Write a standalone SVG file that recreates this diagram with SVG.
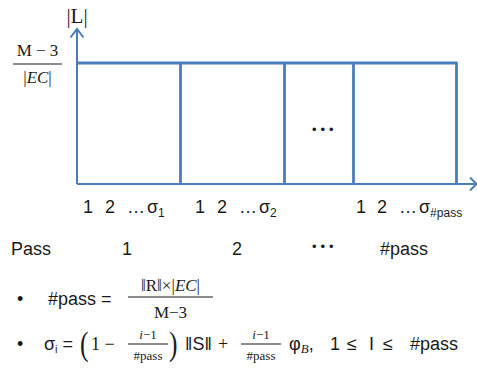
<svg xmlns="http://www.w3.org/2000/svg" width="477" height="374" viewBox="0 0 477 374">
<style>
.ax{stroke:#4a7ebb;stroke-width:2;fill:none}
.bx{stroke:#4a7ebb;stroke-width:2.8;fill:none}
.s{font-family:"Liberation Sans",Arial,sans-serif;font-size:18px;fill:#1a1a1a}
.m{font-family:"Liberation Serif","Times New Roman",serif;font-size:17px;fill:#1a1a1a}
.sm{font-family:"Liberation Serif","Times New Roman",serif;font-size:13px;fill:#1a1a1a}
.dots{font-family:"Liberation Sans",Arial,sans-serif;font-size:13px;letter-spacing:4px;fill:#1a1a1a}
.par{font-family:"Liberation Serif","Times New Roman",serif;font-size:34px;fill:#1a1a1a}
.fl{stroke:#1a1a1a;stroke-width:1.2}
</style>
<rect width="477" height="374" fill="#ffffff"/>
<g id="connectors">
<path class="ax" d="M77,184 V29"/>
<path class="ax" d="M70.5,37.5 L77,29 L83.5,37.5"/>
<path class="ax" d="M77,184 H476"/>
<path class="ax" d="M470,177.5 L476.5,184 L470,190.5"/>
</g>
<g id="box">
<path class="bx" d="M77,63 H457.5"/>
<path class="bx" d="M180.5,63 V184"/>
<path class="bx" d="M284.5,63 V184"/>
<path class="bx" d="M353.5,63 V184"/>
<path class="bx" d="M456.5,63 V184"/>
<text class="dots" x="312" y="134">•••</text>
</g>
<g id="ylabel">
<text class="m" x="77" y="23" style="font-size:21px" text-anchor="middle">|L|</text>
<text class="m" x="37.5" y="56" text-anchor="middle">M − 3</text>
<line class="fl" x1="13" y1="64" x2="62" y2="64"/>
<text class="m" x="37.5" y="83" text-anchor="middle">|<tspan font-style="italic">EC</tspan>|</text>
</g>
<g id="xlabels" class="s">
<text x="83" y="213">1</text><text x="105" y="213">2</text><text x="127" y="213">…</text><text x="147" y="213">σ<tspan font-size="12" dy="4">1</tspan></text>
<text x="195" y="213">1</text><text x="217" y="213">2</text><text x="239" y="213">…</text><text x="259" y="213">σ<tspan font-size="12" dy="4">2</tspan></text>
<text x="356" y="213">1</text><text x="377" y="213">2</text><text x="399" y="213">…</text><text x="419" y="213">σ<tspan font-size="12" dy="4">#pass</tspan></text>
</g>
<g id="passrow" class="s">
<text x="11" y="255">Pass</text>
<text x="122" y="255">1</text>
<text x="232" y="255">2</text>
<text class="dots" x="312" y="251">•••</text>
<text x="380" y="255">#pass</text>
</g>
<g id="formula1">
<text class="s" x="17" y="305">•</text>
<text class="s" x="48" y="305">#pass =</text>
<text class="m" x="170.5" y="291" text-anchor="middle">‖R‖×|<tspan font-style="italic">EC</tspan>|</text>
<line class="fl" x1="128" y1="297" x2="213" y2="297"/>
<text class="m" x="170.5" y="318" text-anchor="middle">M−3</text>
</g>
<g id="formula2">
<text class="s" x="17" y="350">•</text>
<text class="s" x="44" y="350">σ<tspan font-size="11" dy="3">i</tspan><tspan dy="-3"> =</tspan></text>
<text class="par" x="80" y="355" transform="translate(80 0) scale(0.75 1) translate(-80 0)">(</text>
<text class="m" x="91" y="350" style="font-size:18px">1 −</text>
<text class="sm" x="148" y="339" text-anchor="middle"><tspan font-style="italic">i</tspan>−1</text>
<line class="fl" x1="128" y1="344" x2="168" y2="344"/>
<text class="sm" x="148" y="360" text-anchor="middle">#pass</text>
<text class="par" x="169" y="355" transform="translate(169 0) scale(0.75 1) translate(-169 0)">)</text>
<text class="s" x="185" y="350">‖S‖</text>
<text class="m" x="218" y="350" style="font-size:18px">+</text>
<text class="sm" x="261" y="339" text-anchor="middle"><tspan font-style="italic">i</tspan>−1</text>
<line class="fl" x1="241" y1="344" x2="281" y2="344"/>
<text class="sm" x="261" y="360" text-anchor="middle">#pass</text>
<text class="s" x="289" y="350">φ<tspan class="sm" font-style="italic" dy="3">B</tspan><tspan dy="-3">,</tspan></text>
<text class="s" x="330" y="350">1</text>
<text class="s" x="347" y="350">≤</text>
<text class="s" x="369" y="350">I</text>
<text class="s" x="383" y="350">≤</text>
<text class="s" x="410" y="350">#pass</text>
</g>
</svg>
